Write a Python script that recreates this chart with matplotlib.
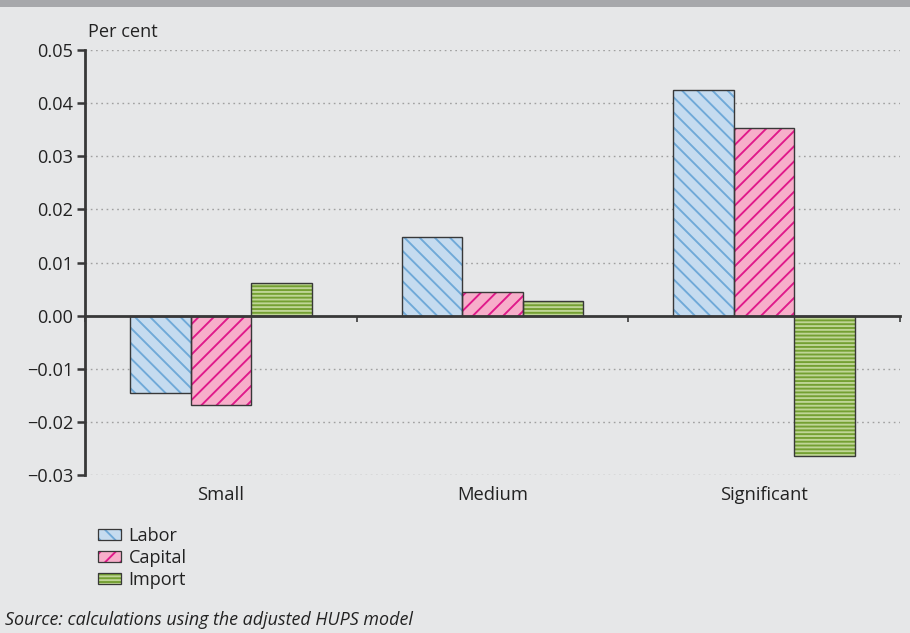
import numpy as np
import matplotlib
matplotlib.use("Agg")
import matplotlib.pyplot as plt
from matplotlib.patches import Patch, Rectangle
from matplotlib.transforms import blended_transform_factory
from matplotlib.legend_handler import HandlerTuple

categories = ["Small", "Medium", "Significant"]
series = ["Labor", "Capital", "Import"]
labor = [-0.0145, 0.0148, 0.0425]
capital = [-0.0169, 0.0045, 0.0354]
imports = [0.0062, 0.0028, -0.0265]
yticks = [-0.03, -0.02, -0.01, 0.00, 0.01, 0.02, 0.03, 0.04, 0.05]

bg = "#E6E7E8"
faces = ["#C5DBEF", "#F7AECA", "#BFD596"]
hatch_cols = ["#6FA9D8", "#E0198A", "#74A032"]
hatches = ["\\\\", "//", "----"]
edge = "#383838"

plt.rcParams["font.family"] = ["Open Sans", "DejaVu Sans"]
plt.rcParams["hatch.linewidth"] = 1.5

fig = plt.figure(figsize=(910 / 91, 633 / 91), dpi=91, facecolor=bg)
ax = fig.add_axes([85 / 910, 1 - 475 / 633, 815 / 910, 425 / 633])
ax.set_facecolor(bg)

# top grey band
fig.patches.append(Rectangle((0, 1 - 7 / 633), 1, 7 / 633, transform=fig.transFigure,
                             facecolor="#A7A8AB", edgecolor="none"))

x = np.arange(len(categories))
w = 0.223
handles = []
for i, (vals, name) in enumerate(zip([labor, capital, imports], series)):
    pos = x + (i - 1) * w
    ax.bar(pos, vals, w, color=faces[i], edgecolor=hatch_cols[i], linewidth=0,
           hatch=hatches[i], zorder=3)
    ax.bar(pos, vals, w, fill=False, edgecolor=edge, linewidth=1.1, zorder=4)
    handles.append((Patch(facecolor=faces[i], edgecolor=hatch_cols[i], hatch=hatches[i], linewidth=0),
                    Patch(fill=False, edgecolor=edge, linewidth=1.0)))

ax.set_xlim(-0.5, 2.5)
ax.set_ylim(-0.03, 0.05)
ax.set_yticks(yticks)
ax.set_yticklabels([f"{v:.2f}".replace("-", "\u2212") for v in yticks])
for v in yticks:
    if v != 0:
        ax.axhline(v, color="#A0A0A0", linewidth=1.1, linestyle=(0, (1.2, 2.6)), zorder=1)

for s in ["top", "right"]:
    ax.spines[s].set_visible(False)
ax.spines["left"].set_color(edge)
ax.spines["left"].set_linewidth(2.2)
ax.spines["bottom"].set_position(("data", 0))
ax.spines["bottom"].set_color(edge)
ax.spines["bottom"].set_linewidth(2.2)
ax.spines["bottom"].set_zorder(5)

ax.set_xticks(np.arange(len(categories) + 1) - 0.5)
ax.set_xticklabels([])
ax.tick_params(axis="x", direction="out", length=5, width=1.3, color=edge)
ax.tick_params(axis="y", direction="out", length=6, width=2, color=edge,
               labelsize=14.3, labelcolor="#222222", pad=3)

trans = blended_transform_factory(ax.transData, ax.transAxes)
for xi, c in zip(x, categories):
    ax.text(xi, -0.025, c, transform=trans, ha="center", va="top", fontsize=14.5, color="#222222")

fig.text(88 / 910, 1 - 32 / 633, "Per cent", fontsize=14.3, color="#222222", va="center")

leg = fig.legend(handles, series, handler_map={tuple: HandlerTuple(ndivide=1)},
                 loc="upper left", bbox_to_anchor=(98 / 910, 1 - 527 / 633),
                 frameon=False, fontsize=14.3, handlelength=1.25, handleheight=0.6,
                 handletextpad=0.45, labelspacing=0.22, borderpad=0, borderaxespad=0)
for t in leg.get_texts():
    t.set_color("#222222")

fig.text(5 / 910, 1 - 620 / 633, "Source: calculations using the adjusted HUPS model",
         fontsize=14.2, style="italic", color="#222222", va="center")

fig.savefig("out.png", dpi=91, facecolor=bg)
